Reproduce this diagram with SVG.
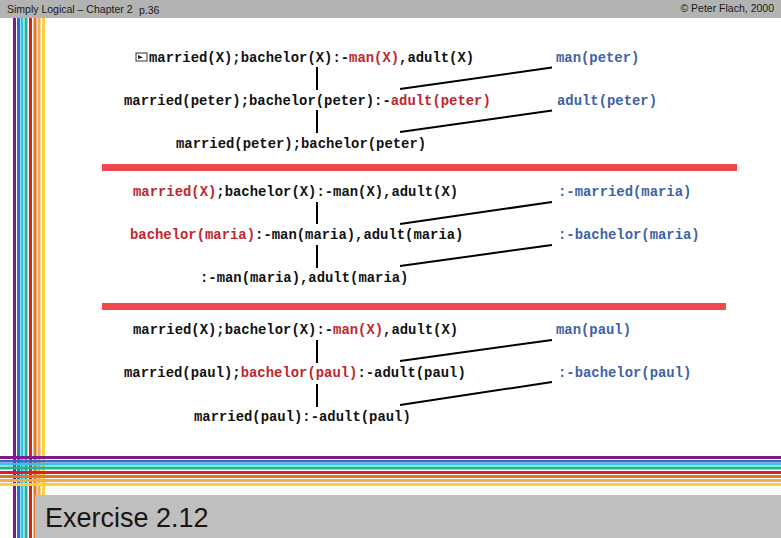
<svg xmlns="http://www.w3.org/2000/svg" width="781" height="538" viewBox="0 0 781 538">
<style>
.hdr{font-family:"Liberation Sans",Arial,sans-serif;font-size:10.5px;fill:#1a1a1a}
.t{font-family:"Liberation Mono","Courier New",monospace;font-size:13.9px;font-weight:bold;fill:#111}
.r{fill:#c0262c}
.b{font-family:"Liberation Mono","Courier New",monospace;font-size:13.9px;font-weight:bold;fill:#3d62a8}
.c{stroke:#000;stroke-width:2;fill:none}
.sep{fill:#f0484f}
</style>
<rect width="781" height="538" fill="#fff"/>
<rect x="0" y="0" width="781" height="18" fill="#b3b3b3"/>
<text class="hdr" x="7" y="13">Simply Logical – Chapter 2</text>
<text class="hdr" x="139" y="14">p.36</text>
<text class="hdr" x="774" y="12" text-anchor="end">© Peter Flach, 2000</text>
<g id="stripes-v">
<rect x="13" y="18" width="3" height="520" fill="#7d1a8e"/>
<rect x="17" y="18" width="3" height="520" fill="#2f6cc9"/>
<rect x="20.5" y="18" width="3" height="520" fill="#33c3e6"/>
<rect x="24.5" y="18" width="3" height="520" fill="#22b39b"/>
<rect x="29" y="18" width="3" height="520" fill="#d42222"/>
<rect x="33.5" y="18" width="3" height="520" fill="#e27526"/>
<rect x="37.5" y="18" width="3" height="520" fill="#f5a955"/>
<rect x="42" y="18" width="3" height="520" fill="#f7d23a"/>
</g>
<g id="stripes-h">
<rect x="0" y="456" width="781" height="3" fill="#7d1a8e"/>
<rect x="0" y="460" width="781" height="2.5" fill="#2f6cc9"/>
<rect x="0" y="463" width="781" height="2.5" fill="#33c3e6"/>
<rect x="0" y="466.5" width="781" height="3" fill="#22b39b"/>
<rect x="0" y="471" width="781" height="3" fill="#d42222"/>
<rect x="0" y="475" width="781" height="3" fill="#e27526"/>
<rect x="0" y="479" width="781" height="3" fill="#f5a955"/>
<rect x="0" y="483" width="781" height="3" fill="#f7d23a"/>
</g>
<rect x="35" y="495" width="746" height="43" fill="#bfbfbf"/>
<text x="45" y="527" font-family="'Liberation Sans',Arial,sans-serif" font-size="27" fill="#1a1414">Exercise 2.12</text>
<rect class="sep" x="102" y="164" width="635" height="7"/>
<rect class="sep" x="102" y="303" width="624" height="7"/>
<g id="connectors">
<line class="c" x1="317" y1="67" x2="317" y2="90"/>
<line class="c" x1="317" y1="110" x2="317" y2="133"/>
<line class="c" x1="400" y1="89" x2="552" y2="67.5"/>
<line class="c" x1="400" y1="132" x2="552" y2="110.5"/>
<line class="c" x1="317" y1="202" x2="317" y2="224"/>
<line class="c" x1="317" y1="245" x2="317" y2="268"/>
<line class="c" x1="400" y1="224" x2="552" y2="202"/>
<line class="c" x1="400" y1="266" x2="552" y2="245"/>
<line class="c" x1="317" y1="340" x2="317" y2="363"/>
<line class="c" x1="317" y1="384" x2="317" y2="407"/>
<line class="c" x1="400" y1="361" x2="552" y2="340"/>
<line class="c" x1="400" y1="405" x2="552" y2="382"/>
</g>
<g id="n1a">
<rect x="136" y="53" width="11" height="8" fill="#fff" stroke="#333" stroke-width="1"/>
<polygon points="138,55 143,57.5 138,59" fill="#222"/>
<text class="t" x="149" y="62">married(X);bachelor(X):-<tspan class="r">man(X)</tspan>,adult(X)</text>
</g>
<g id="n1b"><text class="t" x="124" y="105">married(peter);bachelor(peter):-<tspan class="r">adult(peter)</tspan></text></g>
<g id="n1c"><text class="t" x="176" y="148">married(peter);bachelor(peter)</text></g>
<g id="n1d"><text class="b" x="556" y="62">man(peter)</text></g>
<g id="n1e"><text class="b" x="557" y="105">adult(peter)</text></g>
<g id="n2a"><text class="t" x="133" y="196"><tspan class="r">married(X)</tspan>;bachelor(X):-man(X),adult(X)</text></g>
<g id="n2b"><text class="t" x="130" y="239"><tspan class="r">bachelor(maria)</tspan>:-man(maria),adult(maria)</text></g>
<g id="n2c"><text class="t" x="200" y="282">:-man(maria),adult(maria)</text></g>
<g id="n2d"><text class="b" x="558" y="196">:-married(maria)</text></g>
<g id="n2e"><text class="b" x="558" y="239">:-bachelor(maria)</text></g>
<g id="n3a"><text class="t" x="133" y="334">married(X);bachelor(X):-<tspan class="r">man(X)</tspan>,adult(X)</text></g>
<g id="n3b"><text class="t" x="124" y="377">married(paul);<tspan class="r">bachelor(paul)</tspan>:-adult(paul)</text></g>
<g id="n3c"><text class="t" x="194" y="421">married(paul):-adult(paul)</text></g>
<g id="n3d"><text class="b" x="556" y="334">man(paul)</text></g>
<g id="n3e"><text class="b" x="558" y="377">:-bachelor(paul)</text></g>
</svg>
